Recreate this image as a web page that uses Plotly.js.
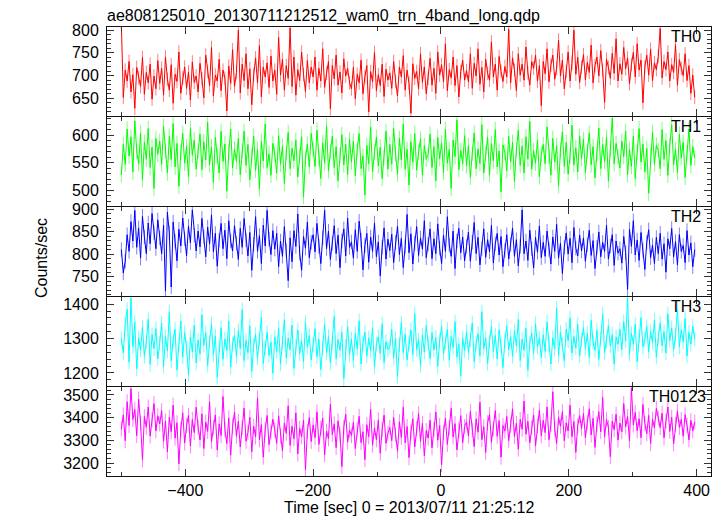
<!DOCTYPE html>
<html><head><meta charset="utf-8">
<script src="https://cdn.plot.ly/plotly-3.0.1.min.js"></script>
<style>html,body{margin:0;padding:0;background:#fff;}</style>
</head><body>
<div id="chart" style="width:724px;height:516px;"></div>
<script>
// ---- Data (counts/sec per 3 s bin) ----
const seriesNames = ['TH0', 'TH1', 'TH2', 'TH3', 'TH0123'];

const th0 = [
812,652,712,688,731,664,702,628,718,695,676,740,659,707,684,725,648,699,671,733,
683,716,657,741,692,668,724,639,703,687,752,661,695,719,672,708,646,730,685,699,
664,727,693,651,745,709,678,762,655,701,688,736,667,712,694,622,721,683,757,676,
707,800,662,725,689,748,671,715,636,702,739,684,766,653,719,697,728,674,743,688,
712,659,784,701,736,668,722,694,805,676,741,657,713,689,752,702,665,733,684,719,
697,741,668,716,688,759,674,705,731,627,722,693,745,679,708,662,737,699,716,684,
671,718,649,703,684,734,660,697,722,620,709,686,751,667,702,678,725,654,714,690,
706,672,731,688,655,719,697,744,668,712,683,617,726,694,709,671,748,685,719,660,
694,738,679,716,661,752,701,724,686,770,667,713,695,741,678,722,653,709,734,690,
711,686,748,672,727,699,759,681,718,664,736,705,690,774,697,725,668,742,709,687,
720,697,802,684,739,712,667,748,701,725,690,763,706,679,731,716,745,688,722,634,
731,704,759,686,723,745,692,716,778,699,734,671,709,752,688,727,800,703,740,685,
718,746,691,729,707,767,684,722,741,699,755,712,641,736,718,694,749,705,781,688,
726,703,762,715,739,682,724,751,697,770,712,734,640,719,745,701,758,689,728,713,
742,804,695,731,713,752,688,724,707,768,679,735,716,700,748,689,722,661,701,652
];

const th1 = [
528,583,547,611,562,597,533,626,571,548,604,519,587,556,612,541,578,503,594,565,
589,547,616,572,531,598,556,621,542,585,507,568,603,549,579,524,612,563,591,538,
571,602,537,588,555,623,546,579,514,596,561,531,607,552,584,498,569,611,540,575,
552,594,528,571,607,545,583,519,562,598,536,574,502,589,553,620,541,566,527,585,
566,531,599,547,580,512,568,605,539,576,553,591,524,562,597,488,557,584,542,603,
574,543,609,558,521,586,549,617,535,570,598,541,579,517,563,601,546,583,528,592,
551,589,526,574,603,539,562,491,581,548,615,533,569,596,544,578,521,560,607,538,
583,547,612,566,529,594,555,620,538,574,509,588,551,603,536,569,593,527,581,556,
565,602,541,579,517,596,557,586,532,611,549,574,503,591,561,628,537,572,548,599,
544,581,523,567,604,539,575,548,619,531,566,596,528,585,553,610,542,571,497,582,
569,535,598,551,587,516,573,609,545,580,531,597,556,625,538,572,549,591,524,565,
583,548,615,562,527,594,551,581,508,573,606,543,587,529,562,618,546,577,533,598,
557,592,531,571,604,546,579,522,565,613,539,583,552,596,517,574,631,548,585,561,
540,589,561,607,528,574,543,598,521,569,612,551,584,533,576,494,563,605,547,582,
572,539,610,556,590,527,581,619,546,574,532,602,559,587,523,568,611,545,579,558
];

const th2 = [
810,758,784,843,806,872,829,897,815,858,791,884,838,801,869,823,890,847,812,876,
836,801,864,718,893,847,727,871,828,785,855,818,880,834,796,862,825,898,842,807,
851,816,879,839,794,860,822,887,805,846,773,831,868,812,853,790,874,829,807,863,
824,788,857,815,879,831,796,848,764,822,883,806,841,779,864,818,897,833,799,852,
811,846,772,829,795,861,808,741,836,783,852,817,889,802,764,839,813,871,792,826,
843,805,868,817,779,836,897,812,851,788,824,863,801,842,770,829,856,796,880,815,
827,791,854,806,873,831,765,819,846,782,838,806,869,794,827,752,815,858,789,833,
808,844,781,826,862,799,835,770,817,888,803,845,778,824,861,797,836,811,874,792,
822,856,790,834,801,867,813,779,842,806,883,820,795,851,768,829,857,803,838,785,
817,849,784,826,870,801,837,776,812,856,793,832,805,864,780,823,846,798,839,772,
808,843,789,821,858,795,832,774,817,898,801,829,786,853,812,769,837,804,862,792,
826,795,851,810,778,838,806,866,791,824,757,815,847,800,835,781,859,813,796,842,
807,836,784,821,853,797,830,768,815,849,794,826,806,864,789,818,843,775,829,802,
812,780,839,803,722,855,817,874,798,831,786,848,809,766,826,854,792,820,779,837,
801,846,789,823,760,834,812,857,794,828,776,843,806,819,781,852,798,825,772,810
];

const th3 = [
1300,1258,1342,1385,1231,1419,1276,1348,1212,1302,1267,1334,1248,1291,1356,1225,1312,1270,1329,1241,
1287,1345,1219,1306,1264,1378,1235,1295,1327,1208,1283,1351,1246,1318,1273,1194,1305,1262,1339,1229,
1296,1255,1369,1281,1317,1222,1290,1343,1253,1308,1187,1276,1332,1240,1299,1265,1351,1217,1284,1310,
1248,1323,1271,1384,1236,1294,1259,1337,1205,1281,1312,1243,1296,1362,1228,1274,1318,1251,1290,1199,
1305,1263,1331,1226,1287,1355,1244,1301,1268,1339,1213,1279,1325,1256,1294,1232,1347,1275,1309,1238,
1282,1329,1247,1298,1210,1273,1341,1258,1306,1229,1286,1364,1241,1297,1266,1318,1183,1277,1335,1253,
1299,1236,1315,1270,1352,1226,1287,1319,1249,1302,1264,1331,1218,1284,1305,1257,1343,1230,1291,1268,
1276,1327,1244,1301,1189,1281,1346,1259,1312,1238,1290,1325,1253,1372,1268,1296,1222,1310,1261,1338,
1285,1242,1318,1267,1303,1219,1294,1336,1255,1289,1327,1237,1306,1274,1349,1246,1283,1192,1301,1265,
1320,1259,1297,1345,1233,1286,1314,1250,1378,1271,1302,1227,1291,1336,1262,1309,1241,1325,1280,1216,
1294,1337,1268,1305,1248,1321,1279,1356,1236,1298,1266,1330,1208,1287,1316,1257,1343,1275,1302,1245,
1311,1263,1348,1284,1226,1302,1270,1389,1251,1318,1283,1235,1327,1294,1360,1258,1306,1273,1341,1249,
1296,1332,1271,1315,1245,1353,1288,1266,1324,1239,1301,1371,1259,1292,1337,1278,1312,1226,1305,1283,
1327,1268,1349,1293,1418,1255,1316,1284,1342,1232,1307,1361,1275,1298,1335,1262,1320,1289,1354,1246,
1303,1346,1279,1320,1258,1372,1294,1331,1267,1310,1385,1276,1325,1290,1359,1249,1318,1284,1336,1298
];

const th0123 = [
3350,3412,3298,3470,3365,3528,3392,3436,3321,3482,3377,3214,3405,3358,3447,3319,3390,3462,3341,3408,
3372,3431,3296,3385,3249,3402,3338,3455,3310,3378,3197,3349,3421,3288,3365,3410,3275,3392,3334,3446,
3358,3302,3417,3264,3381,3339,3470,3295,3356,3412,3258,3373,3321,3493,3347,3286,3399,3235,3362,3425,
3318,3384,3271,3357,3442,3296,3335,3401,3250,3362,3315,3487,3302,3369,3226,3348,3410,3281,3337,3393,
3345,3287,3408,3319,3253,3376,3331,3452,3278,3362,3307,3421,3240,3353,3316,3389,3172,3339,3401,3295,
3368,3312,3425,3282,3354,3398,3236,3341,3307,3459,3326,3373,3268,3386,3329,3184,3358,3415,3292,3346,
3321,3379,3264,3347,3406,3290,3338,3215,3369,3315,3437,3279,3355,3302,3390,3243,3348,3411,3287,3332,
3357,3298,3401,3326,3252,3382,3313,3446,3289,3361,3224,3337,3395,3271,3352,3418,3296,3375,3232,3343,
3310,3389,3267,3348,3425,3301,3366,3193,3334,3398,3282,3357,3441,3315,3374,3258,3346,3409,3290,3361,
3382,3319,3427,3345,3272,3395,3336,3468,3303,3360,3247,3378,3414,3292,3351,3431,3318,3387,3226,3365,
3341,3405,3298,3366,3439,3317,3375,3261,3392,3349,3473,3327,3384,3289,3356,3412,3276,3363,3432,3320,
3388,3334,3447,3303,3369,3514,3351,3287,3401,3362,3426,3298,3377,3341,3455,3316,3383,3247,3366,3409,
3352,3418,3311,3380,3439,3324,3397,3269,3371,3426,3338,3489,3315,3392,3357,3228,3384,3347,3415,3301,
3376,3338,3462,3359,3405,3297,3531,3368,3423,3342,3395,3312,3458,3374,3329,3410,3286,3393,3355,3441,
3398,3356,3420,3311,3384,3447,3339,3402,3285,3371,3429,3357,3392,3318,3413,3366,3302,3388,3342,3381
];

// Typical 1-sigma error of a 3 s bin, per band (counts/sec)
const seriesErrors = [15, 14, 16, 21, 33];

// Time bins: regular 3 s grid starting at -500 s
const tStart = -500;
const binSize = 3;
const time = th0.map((_, i) => tStart + i * binSize);

const seriesValues = [th0, th1, th2, th3, th0123];

// ---- Styling / layout ----
const colors = ['#ff0000', '#00ff00', '#0000ff', '#00ffff', '#ff00ff'];
const errColors = ['rgba(255,0,0,0.5)', 'rgba(0,255,0,0.5)', 'rgba(0,0,255,0.5)', 'rgba(0,255,255,0.55)', 'rgba(255,0,255,0.5)'];
const yRanges = [[611, 807], [471, 633], [707, 904.5], [1162, 1421], [3143, 3535]];
const yDticks = [50, 50, 50, 100, 100];
const yMinor = [10, 10, 10, 20, 20];
const labelRightPx = [703, 703, 703, 703, 708];
const FONT = 'Liberation Sans, Arial, Helvetica, sans-serif';
const ML = 107, MR = 13, MT = 27, MB = 40, W = 724, H = 516;
const plotW = W - ML - MR, plotH = H - MT - MB;   // 604 x 449
const panelPx = 89, gapPx = 1;                      // 5*89 + 4*1 = 449

const layout = {
  width: W, height: H,
  margin: {l: ML, r: MR, t: MT, b: MB, pad: 0},
  paper_bgcolor: '#ffffff', plot_bgcolor: '#ffffff',
  showlegend: false,
  font: {family: FONT, size: 16, color: '#000'},
  title: {
    text: 'ae808125010_20130711212512_wam0_trn_4band_long.qdp',
    xref: 'paper', x: 0, xanchor: 'left',
    yref: 'container', y: 1 - 15 / H, yanchor: 'middle',
    font: {family: FONT, size: 16, color: '#000'}
  },
  annotations: [
    {text: 'Counts/sec', xref: 'paper', yref: 'paper', x: (41 - ML) / plotW, y: (H - MB - 258) / plotH,
     xanchor: 'center', yanchor: 'middle', textangle: -90, showarrow: false, font: {family: FONT, size: 16, color: '#000'}},
    {text: 'Time [sec] 0 = 2013/07/11 21:25:12', xref: 'paper', yref: 'paper', x: 0.5, y: (H - MB - 507) / plotH,
     xanchor: 'center', yanchor: 'middle', showarrow: false, font: {family: FONT, size: 16, color: '#000'}}
  ]
};

const traces = [];
for (let k = 0; k < 5; k++) {
  const s = k === 0 ? '' : String(k + 1);
  const topPx = k * (panelPx + gapPx);
  const top = 1 - topPx / plotH, bottom = 1 - (topPx + panelPx) / plotH;
  traces.push({
    type: 'scatter', mode: 'lines', name: seriesNames[k],
    x: time, y: seriesValues[k],
    xaxis: 'x' + s, yaxis: 'y' + s,
    line: {color: colors[k], width: 1},
    error_y: {type: 'constant', value: seriesErrors[k], width: 0, thickness: 1, color: errColors[k]},
    hoverinfo: 'skip'
  });
  const xa = {
    domain: [0, 1], anchor: 'y' + s, range: [-522.5, 422.5],
    tick0: 0, dtick: 200, ticks: 'inside', ticklen: 7, tickwidth: 1, tickcolor: '#333',
    minor: {tick0: 0, dtick: 100, ticks: 'inside', ticklen: 4, tickwidth: 1, tickcolor: '#333'},
    showline: true, linecolor: '#111', linewidth: 1, mirror: 'allticks',
    showgrid: false, zeroline: false,
    showticklabels: k === 4, tickfont: {family: FONT, size: 16, color: '#000'}
  };
  if (k > 0) xa.matches = 'x';
  layout['xaxis' + s] = xa;
  layout['yaxis' + s] = {
    domain: [Math.max(0, bottom), Math.min(1, top)], anchor: 'x' + s, range: yRanges[k],
    tick0: 0, dtick: yDticks[k], ticks: 'inside', ticklen: 7, tickwidth: 1, tickcolor: '#333',
    minor: {tick0: 0, dtick: yMinor[k], ticks: 'inside', ticklen: 4, tickwidth: 1, tickcolor: '#333'},
    showline: true, linecolor: '#111', linewidth: 1, mirror: 'allticks',
    showgrid: false, zeroline: false,
    tickfont: {family: FONT, size: 16, color: '#000'}, ticklabelstandoff: 4
  };
  layout.annotations.push({
    text: seriesNames[k], xref: 'paper', yref: 'paper',
    x: (labelRightPx[k] - ML) / plotW, y: top, xanchor: 'right', yanchor: 'top', yshift: 1,
    showarrow: false, font: {family: FONT, size: 16, color: '#000'}
  });
}

Plotly.newPlot('chart', traces, layout, {displayModeBar: false, staticPlot: true});
</script>
</body></html>
